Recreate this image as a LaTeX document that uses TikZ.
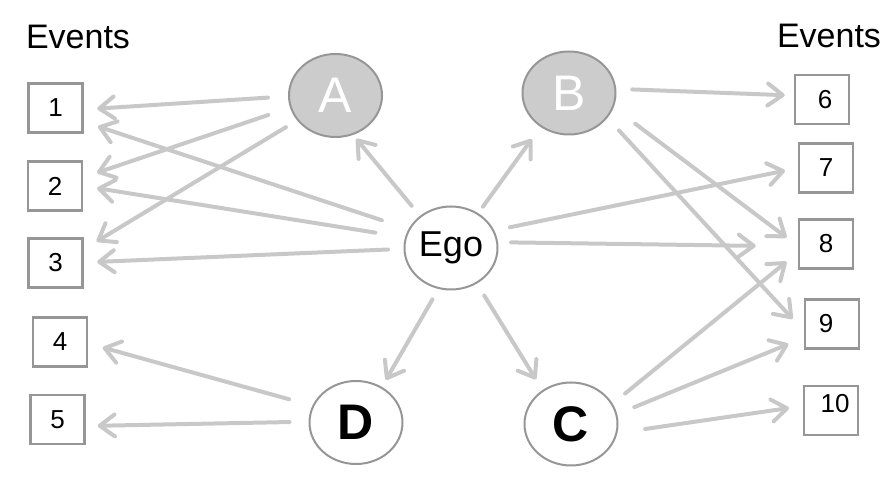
\documentclass[tikz,border=0pt]{standalone}
\usepackage{fontspec}
\setmainfont{Liberation Sans}
\usetikzlibrary{shapes.geometric,arrows.meta}
\definecolor{linegray}{RGB}{200,200,200}
\definecolor{rimgray}{RGB}{150,150,150}
\definecolor{fillgray}{RGB}{204,204,204}
\begin{document}
\begin{tikzpicture}[x=1pt,y=1pt,
  evbox/.style={draw=rimgray,line width=2.5pt,minimum width=54pt,minimum height=49pt,inner sep=0pt,font=\fontsize{26}{30}\selectfont},
  actor/.style={ellipse,draw=rimgray,line width=2pt,fill=white,minimum width=93pt,minimum height=83pt,inner sep=0pt},
  alter/.style={actor,fill=fillgray,text=white,font=\fontsize{50}{56}\selectfont},
  boldalter/.style={actor,font=\fontsize{50}{56}\selectfont\bfseries},
  tie/.style={draw=linegray,line width=4pt,line cap=round,-{Straight Barb[length=15pt,width=22pt,round]}}]
\useasboundingbox (0,0) rectangle (889,484);
\node[font=\fontsize{34}{40}\selectfont] (evleft) at (78,447) {Events};
\node[font=\fontsize{34}{40}\selectfont] (evright) at (829,448) {Events};
\node[evbox] (ev1) at (55.5,376) {1};
\node[evbox] (ev2) at (55,298) {2};
\node[evbox] (ev3) at (55.5,221) {3};
\node[evbox] (ev4) at (60,142) {4};
\node[evbox] (ev5) at (57.5,64.5) {5};
\node[evbox] (ev6) at (822,384.5) {\hspace*{6pt}6};
\node[evbox] (ev7) at (826,316) {7};
\node[evbox] (ev8) at (826,240) {8};
\node[evbox] (ev9) at (832,160) {\hspace*{-12pt}9};
\node[evbox] (ev10) at (831,73.5) {\hspace*{8pt}\raisebox{14pt}{10}};
\node[alter] (A) at (335.5,388.5) {A};
\node[alter] (B) at (569,391) {B};
\node[actor,font=\fontsize{36}{42}\selectfont] (Ego) at (451,236) {Ego};
\node[boldalter] (D) at (356,61.5) {D};
\node[boldalter] (C) at (571,60) {C};
\draw[tie,shorten <=20pt,shorten >=13.5pt] (A.181) -- (ev1.-3);
\draw[tie,shorten <=23pt,shorten >=14.5pt] (A.195) -- (ev2.17);
\draw[tie,shorten <=13pt,shorten >=15pt] (A.213) -- (ev3.26);
\draw[tie,shorten <=28pt,shorten >=15pt] (Ego.156) -- (ev1.-26);
\draw[tie,shorten <=30pt,shorten >=14pt] (Ego.167) -- (ev2.0);
\draw[tie,shorten <=15.5pt,shorten >=13.5pt] (Ego.181) -- (ev3.1);
\draw[tie,shorten <=13pt,shorten >=5pt] (Ego.134) -- (A.-66);
\draw[tie,shorten <=8pt,shorten >=15pt] (Ego.52) -- (B.230);
\draw[tie,shorten <=16pt,shorten >=9pt] (B.5) -- (ev6.172);
\draw[tie,shorten <=27pt,shorten >=14pt] (B.-18) -- (ev8.184);
\draw[tie,shorten <=17pt,shorten >=16.5pt] (B.-33) -- (ev9.194);
\draw[tie,shorten <=16pt,shorten >=13pt] (Ego.22) -- (ev7.180);
\draw[tie,shorten <=13pt,shorten >=42pt] (Ego.7) -- (ev8.185);
\draw[tie,shorten <=16pt,shorten >=14.5pt] (C.26) -- (ev8.197);
\draw[tie,shorten <=18.5pt,shorten >=16.5pt] (C.12) -- (ev9.206);
\draw[tie,shorten <=28pt,shorten >=14pt] (C.-11) -- (ev10.171);
\draw[tie,shorten <=12pt,shorten >=8pt] (Ego.253) -- (D.54);
\draw[tie,shorten <=14pt,shorten >=12.5pt] (Ego.-54) -- (C.130);
\draw[tie,shorten <=24pt,shorten >=15pt] (D.159) -- (ev4.-3);
\draw[tie,shorten <=19pt,shorten >=12pt] (D.179) -- (ev5.-13);
\end{tikzpicture}
\end{document}
